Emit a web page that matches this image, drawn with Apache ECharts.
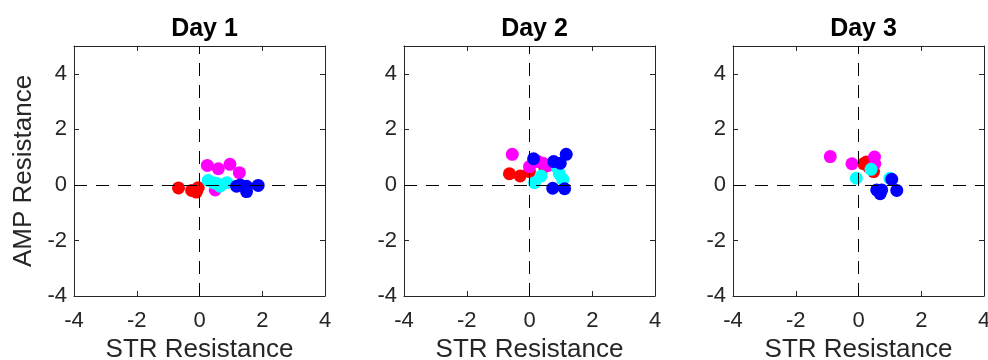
<!DOCTYPE html>
<html>
<head>
<meta charset="utf-8">
<script src="https://cdn.jsdelivr.net/npm/echarts@6/dist/echarts.min.js"></script>
<style>html,body{margin:0;padding:0;background:#fff}#c{width:988px;height:360px}</style>
</head>
<body>
<div id="c"></div>
<script>
// ---- data ----
const dayTitles = ['Day 1', 'Day 2', 'Day 3'];
const xTicks = [-4, -2, 0, 2, 4];
const yTicks = [-4, -2, 0, 2, 4];
const xAxisTitle = 'STR Resistance';
const yAxisTitle = 'AMP Resistance';
const groupColors = ['#FF0000', '#FF00FF', '#00FFFF', '#0000FF'];

const day1Red = [[-0.67, -0.11], [-0.25, -0.2], [-0.1, -0.26], [-0.04, -0.1]];
const day1Magenta = [[0.25, 0.7], [0.6, 0.58], [0.97, 0.74], [1.27, 0.44], [0.5, -0.18]];
const day1Cyan = [[0.28, 0.16], [0.44, 0.08], [0.65, -0.05], [0.87, 0.08], [0.55, 0.05]];
const day1Blue = [[1.18, -0.05], [1.5, -0.05], [1.5, -0.24], [1.87, -0.02], [1.3, 0.0]];

const day2Red = [[-0.64, 0.4], [-0.3, 0.32], [0.0, 0.48], [0.48, 0.66]];
const day2Magenta = [[-0.55, 1.1], [0.0, 0.66], [0.27, 0.84], [0.43, 0.78], [0.6, 0.7]];
const day2Cyan = [[0.16, 0.08], [0.37, 0.32], [0.9, 0.6], [1.06, 0.2], [0.95, 0.4]];
const day2Blue = [[0.13, 0.94], [0.77, 0.84], [0.98, 0.78], [1.17, 1.1], [0.74, -0.12], [1.12, -0.14]];

const day3Red = [[0.16, 0.76], [0.32, 0.66], [0.48, 0.48], [0.25, 0.82]];
const day3Magenta = [[-0.9, 1.02], [-0.21, 0.76], [0.51, 1.0], [0.52, 0.76]];
const day3Cyan = [[-0.07, 0.24], [0.4, 0.56], [1.0, 0.24]];
const day3Blue = [[1.06, 0.2], [1.22, -0.2], [0.58, -0.18], [0.69, -0.32], [0.74, -0.18]];

const dayData = [
  [day1Red, day1Magenta, day1Cyan, day1Blue],
  [day2Red, day2Magenta, day2Cyan, day2Blue],
  [day3Red, day3Magenta, day3Cyan, day3Blue]
];

// ---- layout ----
const FONT = '"Liberation Sans", Arial, sans-serif';
const INK = '#262626';
const gridLefts = [74, 404, 733];
const gridW = 251, gridTop = 46, gridH = 250;

const grids = [], xAxes = [], yAxes = [], series = [], titles = [];
const lineStyle = { color: INK, width: 1 };

gridLefts.forEach((left, i) => {
  grids.push({ left: left, top: gridTop, width: gridW, height: gridH, containLabel: false, outerBoundsMode: 'none' });
  titles.push({
    text: dayTitles[i], left: left + gridW / 2, top: 12, textAlign: 'center',
    textStyle: { fontFamily: FONT, fontWeight: 'bold', fontSize: 25, color: '#000' }
  });
  const xMin = xTicks[0], xMax = xTicks[xTicks.length - 1];
  const yMin = yTicks[0], yMax = 5;
  // bottom x
  xAxes.push({
    gridIndex: i, type: 'value', min: xMin, max: xMax, interval: 2, position: 'bottom',
    name: xAxisTitle, nameLocation: 'middle', nameGap: 38,
    nameTextStyle: { fontFamily: FONT, fontSize: 26, color: INK },
    axisLine: { show: true, onZero: false, lineStyle },
    axisTick: { show: true, inside: true, length: 5, lineStyle },
    axisLabel: { fontFamily: FONT, fontSize: 22, color: INK, margin: 14 },
    splitLine: { show: false }
  });
  // top x (box)
  xAxes.push({
    gridIndex: i, type: 'value', min: xMin, max: xMax, interval: 2, position: 'top',
    axisLine: { show: true, onZero: false, lineStyle },
    axisTick: { show: true, inside: true, length: 5, lineStyle },
    axisLabel: { show: false }, splitLine: { show: false }
  });
  // left y
  yAxes.push({
    gridIndex: i, type: 'value', min: yMin, max: yMax, interval: 2, position: 'left',
    name: i === 0 ? yAxisTitle : '', nameLocation: 'middle', nameGap: 37,
    nameTextStyle: { fontFamily: FONT, fontSize: 26, color: INK },
    axisLine: { show: true, onZero: false, lineStyle },
    axisTick: { show: true, inside: true, length: 5, lineStyle },
    axisLabel: {
      fontFamily: FONT, fontSize: 22, color: INK, margin: 7,
      formatter: v => (yTicks.indexOf(v) >= 0 ? String(v) : '')
    },
    splitLine: { show: false }
  });
  // right y (box)
  yAxes.push({
    gridIndex: i, type: 'value', min: yMin, max: yMax, interval: 2, position: 'right',
    axisLine: { show: true, onZero: false, lineStyle },
    axisTick: { show: true, inside: true, length: 5, lineStyle },
    axisLabel: { show: false }, splitLine: { show: false }
  });

  dayData[i].forEach((pts, g) => {
    const s = {
      type: 'scatter', xAxisIndex: i * 2, yAxisIndex: i * 2, data: pts,
      symbol: 'circle', symbolSize: 13,
      itemStyle: { color: groupColors[g], opacity: 1 },
      emphasis: { disabled: true }, animation: false
    };
    if (g === 0) {
      s.markLine = {
        silent: true, symbol: 'none', animation: false, z: 10,
        label: { show: false },
        lineStyle: { color: '#000', width: 1, type: [13, 9], opacity: 1 },
        data: [{ xAxis: 0 }, { yAxis: 0 }]
      };
    }
    series.push(s);
  });
});

const chart = echarts.init(document.getElementById('c'), null, { renderer: 'canvas' });
chart.setOption({
  animation: false,
  backgroundColor: '#fff',
  title: titles,
  grid: grids,
  xAxis: xAxes,
  yAxis: yAxes,
  series: series
});
</script>
</body>
</html>
